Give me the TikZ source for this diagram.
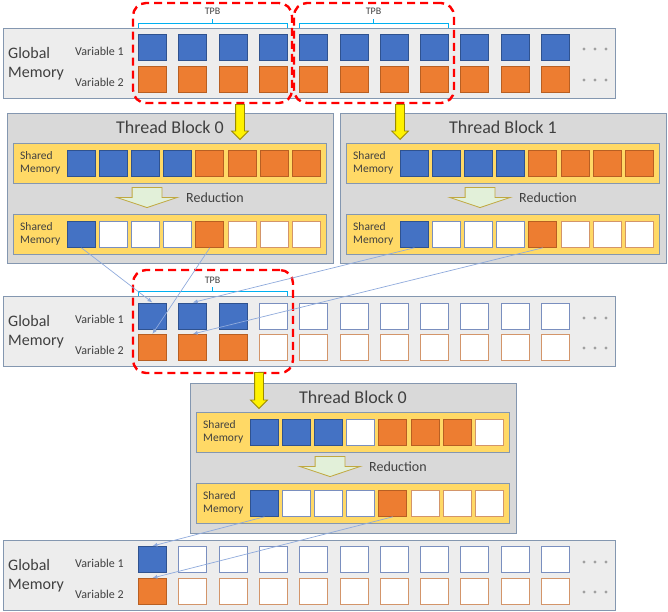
\documentclass[tikz,border=0pt]{standalone}
\usepackage{fontspec}
\setmainfont{Carlito}
\usetikzlibrary{arrows.meta,shapes.arrows}
\definecolor{CellBlue}{HTML}{4472C4}
\definecolor{CellBlueLine}{HTML}{2F528F}
\definecolor{CellOrange}{HTML}{ED7D31}
\definecolor{CellOrangeLine}{HTML}{B85F22}
\definecolor{EmptyBlue}{HTML}{7A8FBF}
\definecolor{EmptyOrange}{HTML}{D3956A}
\definecolor{PanelLine}{HTML}{8497B0}
\definecolor{GlobalFill}{HTML}{EDEDED}
\definecolor{BlockFill}{HTML}{D9D9D9}
\definecolor{SharedFill}{HTML}{FFD966}
\definecolor{ReduceFill}{HTML}{E2F0D9}
\definecolor{ReduceLine}{HTML}{C0A840}
\definecolor{GoLine}{HTML}{9C8A00}
\definecolor{BraceBlue}{HTML}{00B0F0}
\definecolor{LinkBlue}{HTML}{8FAADC}
\definecolor{TextGray}{HTML}{404040}
\definecolor{DotGray}{HTML}{A0A0A0}
\tikzstyle{cell}    = [shape=rectangle,minimum width=28pt,minimum height=26pt,inner sep=0pt,anchor=north west,line width=0.8pt]
\tikzstyle{cellb}   = [cell,fill=CellBlue,draw=CellBlueLine]
\tikzstyle{cello}   = [cell,fill=CellOrange,draw=CellOrangeLine]
\tikzstyle{cellwb}  = [cell,fill=white,draw=EmptyBlue]
\tikzstyle{cellwo}  = [cell,fill=white,draw=EmptyOrange]
\tikzstyle{gpanel}  = [shape=rectangle,minimum width=612pt,minimum height=70pt,anchor=north west,fill=GlobalFill,draw=PanelLine,line width=0.8pt]
\tikzstyle{tbpanel} = [shape=rectangle,minimum width=326pt,minimum height=150pt,anchor=north west,fill=BlockFill,draw=PanelLine,line width=0.8pt]
\tikzstyle{sbar}    = [shape=rectangle,minimum width=313pt,minimum height=40pt,anchor=north west,fill=SharedFill,draw=PanelLine,line width=0.8pt]
\tikzstyle{tpbbox}  = [shape=rectangle,draw=red,line width=2.4pt,dash pattern=on 8pt off 5pt,rounded corners=13pt]
\tikzstyle{tpbline} = [draw=BraceBlue,line width=0.8pt]
\tikzstyle{goarrow} = [single arrow,rotate=-90,anchor=tip,single arrow head extend=4pt,inner xsep=0pt,inner ysep=4pt,fill=yellow,draw=GoLine,line width=0.8pt]
\tikzstyle{reduce}  = [single arrow,rotate=-90,anchor=tip,minimum height=20pt,single arrow head extend=15.5pt,single arrow tip angle=143,inner xsep=0pt,inner ysep=14.5pt,fill=ReduceFill,draw=ReduceLine,line width=0.8pt]
\tikzstyle{link}    = [draw=LinkBlue,line width=0.7pt,-{Latex[length=5pt,width=4pt]}]
\tikzstyle{gtext}   = [anchor=west,align=left,inner sep=0pt,text=TextGray,font=\fontsize{16}{19}\selectfont]
\tikzstyle{vtext}   = [anchor=west,inner sep=0pt,text=TextGray,font=\fontsize{12}{14}\selectfont]
\tikzstyle{stext}   = [anchor=west,align=left,inner sep=0pt,text=TextGray,font=\fontsize{11.5}{12.5}\selectfont]
\tikzstyle{tbtitle} = [text=TextGray,font=\fontsize{18}{20}\selectfont]
\tikzstyle{rtext}   = [anchor=west,inner sep=0pt,text=TextGray,font=\fontsize{14}{16}\selectfont]
\tikzstyle{tpbtext} = [inner sep=0pt,text=TextGray,font=\fontsize{10}{12}\selectfont]

\begin{document}
\begin{tikzpicture}[x=1pt,y=-1pt]
  \useasboundingbox (0,0) rectangle (668,611);

  % Global memory, input
  \node[gpanel] (gin) at (3,28) {};
  \node[gtext] (gin-name) at (8,64) {Global\\Memory};
  \node[vtext] (gin-v1) at (75,51) {Variable 1};
  \node[vtext] (gin-v2) at (75,82) {Variable 2};
  \foreach \i in {0,...,10} {
    \node[cellb] (gin-1-\i) at (138+40.3*\i,34) {};
    \node[cello] (gin-2-\i) at (138+40.3*\i,66) {};
  }
  \foreach \x in {584,595,606} {
    \fill[DotGray] (\x,49) circle (1.6pt);
    \fill[DotGray] (\x,80) circle (1.6pt);
  }
  \draw[tpbline] (138,28) -- (138,23.5) -- (287,23.5) -- (287,28) (212.5,23.5) -- (212.5,18.5);
  \draw[tpbline] (299,28) -- (299,23.5) -- (448,23.5) -- (448,28) (373.5,23.5) -- (373.5,18.5);
  \node[tpbtext] (tpb0-name) at (212.5,11) {TPB};
  \node[tpbtext] (tpb1-name) at (373.5,11) {TPB};
  \node[tpbbox,minimum width=159pt,minimum height=100pt] (tpb0) at (212.5,53) {};
  \node[tpbbox,minimum width=160pt,minimum height=100pt] (tpb1) at (374,53) {};

  % Thread block 0
  \begin{scope}[shift={(7,113)}]
    \node[tbpanel] (tb0) at (0,0) {};
    \node[tbtitle] (tb0-title) at (163,14) {Thread Block 0};
    \node[sbar] (tb0-sa) at (6,30) {};
    \node[stext] (tb0-sa-name) at (13,50) {Shared\\Memory};
    \foreach \s [count=\i from 0] in {cellb,cellb,cellb,cellb,cello,cello,cello,cello}
      \node[\s] (tb0-a-\i) at (60+32.1*\i,37) {};
    \node[reduce] (tb0-red) at (140,95) {};
    \node[rtext] (tb0-red-name) at (179,85) {Reduction};
    \node[sbar] (tb0-sb) at (6,101) {};
    \node[stext] (tb0-sb-name) at (13,121) {Shared\\Memory};
    \foreach \s [count=\i from 0] in {cellb,cellwb,cellwb,cellwb,cello,cellwo,cellwo,cellwo}
      \node[\s] (tb0-b-\i) at (60+32.1*\i,108) {};
  \end{scope}

  % Thread block 1
  \begin{scope}[shift={(340,113)}]
    \node[tbpanel] (tb1) at (0,0) {};
    \node[tbtitle] (tb1-title) at (163,14) {Thread Block 1};
    \node[sbar] (tb1-sa) at (6,30) {};
    \node[stext] (tb1-sa-name) at (13,50) {Shared\\Memory};
    \foreach \s [count=\i from 0] in {cellb,cellb,cellb,cellb,cello,cello,cello,cello}
      \node[\s] (tb1-a-\i) at (60+32.1*\i,37) {};
    \node[reduce] (tb1-red) at (140,95) {};
    \node[rtext] (tb1-red-name) at (179,85) {Reduction};
    \node[sbar] (tb1-sb) at (6,101) {};
    \node[stext] (tb1-sb-name) at (13,121) {Shared\\Memory};
    \foreach \s [count=\i from 0] in {cellb,cellwb,cellwb,cellwb,cello,cellwo,cellwo,cellwo}
      \node[\s] (tb1-b-\i) at (60+32.1*\i,108) {};
  \end{scope}
  \node[goarrow,minimum height=35pt] (go0) at (240,140) {};
  \node[goarrow,minimum height=35pt] (go1) at (400,140) {};

  % Global memory, after first pass
  \node[gpanel] (gmid) at (3,296) {};
  \node[gtext] (gmid-name) at (8,332) {Global\\Memory};
  \node[vtext] (gmid-v1) at (75,319) {Variable 1};
  \node[vtext] (gmid-v2) at (75,350) {Variable 2};
  \foreach \i in {0,1,2} {
    \node[cellb] (gmid-1-\i) at (138+40.3*\i,302.5) {};
    \node[cello] (gmid-2-\i) at (138+40.3*\i,334) {};
  }
  \foreach \i in {3,...,10} {
    \node[cellwb] (gmid-1-\i) at (138+40.3*\i,302.5) {};
    \node[cellwo] (gmid-2-\i) at (138+40.3*\i,334) {};
  }
  \foreach \x in {584,595,606} {
    \fill[DotGray] (\x,318) circle (1.6pt);
    \fill[DotGray] (\x,348) circle (1.6pt);
  }
  \draw[tpbline] (138,296) -- (138,291.5) -- (287,291.5) -- (287,296) (212.5,291.5) -- (212.5,286.5);
  \node[tpbtext] (tpb2-name) at (212.5,280) {TPB};
  \node[tpbbox,minimum width=160pt,minimum height=103pt] (tpb2) at (213,321.5) {};

  % Thread block 0, second pass
  \begin{scope}[shift={(190,383)}]
    \node[tbpanel] (tbz) at (0,0) {};
    \node[tbtitle] (tbz-title) at (163,14) {Thread Block 0};
    \node[sbar] (tbz-sa) at (6,29) {};
    \node[stext] (tbz-sa-name) at (13,49) {Shared\\Memory};
    \foreach \s [count=\i from 0] in {cellb,cellb,cellb,cellwb,cello,cello,cello,cellwo}
      \node[\s] (tbz-a-\i) at (60+32.1*\i,36) {};
    \node[reduce] (tbz-red) at (140,94) {};
    \node[rtext] (tbz-red-name) at (179,84) {Reduction};
    \node[sbar] (tbz-sb) at (6,100) {};
    \node[stext] (tbz-sb-name) at (13,120) {Shared\\Memory};
    \foreach \s [count=\i from 0] in {cellb,cellwb,cellwb,cellwb,cello,cellwo,cellwo,cellwo}
      \node[\s] (tbz-b-\i) at (60+32.1*\i,107) {};
  \end{scope}
  \node[goarrow,minimum height=36pt] (go2) at (259,409) {};

  % Global memory, result
  \node[gpanel] (gout) at (3,540) {};
  \node[gtext] (gout-name) at (8,576) {Global\\Memory};
  \node[vtext] (gout-v1) at (75,563) {Variable 1};
  \node[vtext] (gout-v2) at (75,594) {Variable 2};
  \node[cellb] (gout-1-0) at (138,546) {};
  \node[cello] (gout-2-0) at (138,578) {};
  \foreach \i in {1,...,10} {
    \node[cellwb] (gout-1-\i) at (138+40.3*\i,546) {};
    \node[cellwo] (gout-2-\i) at (138+40.3*\i,578) {};
  }
  \foreach \x in {584,595,606} {
    \fill[DotGray] (\x,562) circle (1.6pt);
    \fill[DotGray] (\x,592) circle (1.6pt);
  }

  % Partial results back to global memory
  \draw[link] (tb0-b-0.south) -- (gmid-1-0.north);
  \draw[link] (tb0-b-4.south) -- (gmid-2-0.north);
  \draw[link] (tb1-b-0.south) -- (gmid-1-1.north);
  \draw[link] (tb1-b-4.south) -- (gmid-2-1.north);
  \draw[link] (tbz-b-0.south) -- (gout-1-0.north);
  \draw[link] (tbz-b-4.south) -- (gout-2-0.north);
\end{tikzpicture}
\end{document}
